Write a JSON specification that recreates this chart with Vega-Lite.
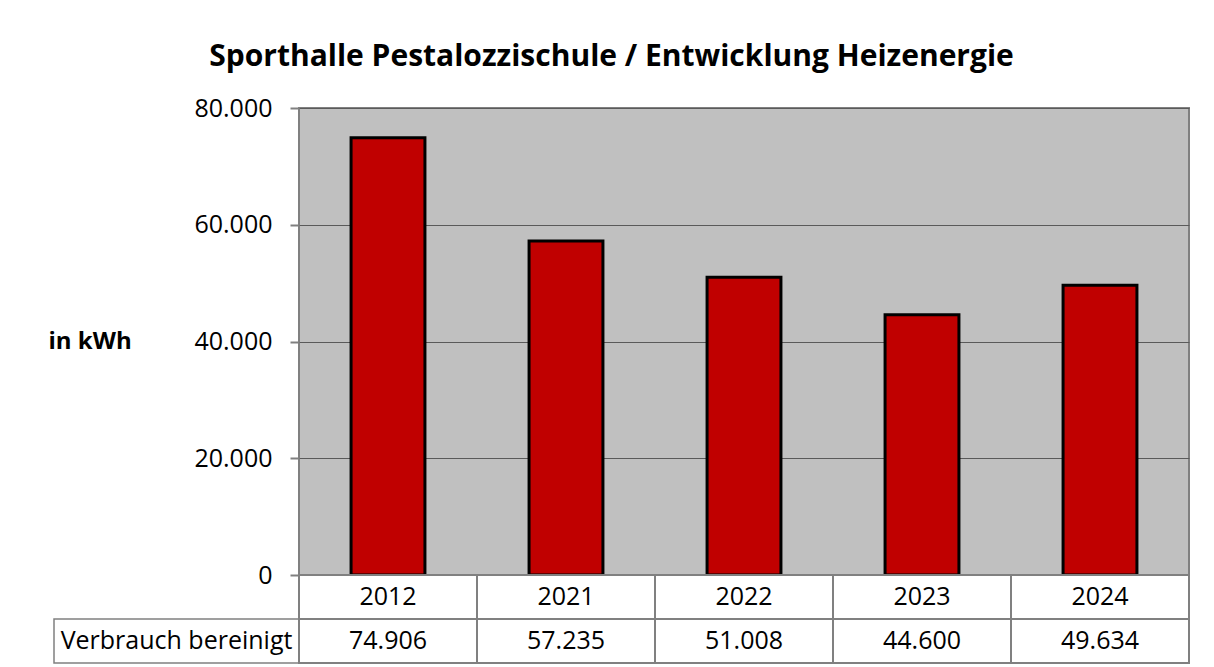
{
  "$schema": "https://vega.github.io/schema/vega-lite/v6.json",
  "padding": {"left": 47, "top": 42, "right": 5, "bottom": 5},
  "background": "white",
  "config": {
    "font": "Open Sans",
    "view": {"stroke": null},
    "locale": {"number": {"decimal": ",", "thousands": ".", "grouping": [3], "currency": ["", " €"]}}
  },
  "title": {
    "text": "Sporthalle Pestalozzischule / Entwicklung Heizenergie",
    "fontSize": 30,
    "fontWeight": "bold",
    "font": "Open Sans",
    "color": "black",
    "anchor": "middle",
    "dx": -7,
    "offset": 23
  },
  "data": {
    "values": [
      {"Jahr": "2012", "kWh": 74906},
      {"Jahr": "2021", "kWh": 57235},
      {"Jahr": "2022", "kWh": 51008},
      {"Jahr": "2023", "kWh": 44600},
      {"Jahr": "2024", "kWh": 49634}
    ]
  },
  "concat": [
    {
      "width": 245,
      "height": 467,
      "data": {"values": []},
      "mark": {"type": "rect"},
      "encoding": {}
    },
    {
      "width": 890,
      "height": 467,
      "view": {"fill": "#C0C0C0", "stroke": "#808080", "strokeWidth": 2},
      "mark": {"type": "bar", "color": "#C00000", "stroke": "black", "strokeWidth": 3},
      "encoding": {
        "x": {
          "field": "Jahr",
          "type": "nominal",
          "sort": null,
          "scale": {"paddingInner": 0.585, "paddingOuter": 0.2925},
          "axis": null
        },
        "y": {
          "field": "kWh",
          "type": "quantitative",
          "scale": {"domain": [0, 80000], "nice": false},
          "axis": {
            "values": [0, 20000, 40000, 60000, 80000],
            "format": ",d",
            "domain": false,
            "grid": true,
            "gridColor": "#5a5a5a",
            "gridWidth": 1.2,
            "tickColor": "#808080",
            "tickWidth": 2,
            "tickSize": 9,
            "labelFontSize": 25,
            "labelColor": "black",
            "labelPadding": 18,
            "labelFont": "Open Sans",
            "title": "in kWh",
            "titleFontSize": 24,
            "titleFontWeight": "bold",
            "titleColor": "black",
            "titleFont": "Open Sans",
            "titleAngle": 0,
            "titleAlign": "left",
            "titleBaseline": "middle",
            "titleX": -251,
            "titleY": 233
          }
        }
      }
    },
    {
      "width": 245,
      "height": 88,
      "layer": [
        {
          "mark": {"type": "rect", "fill": "white", "stroke": "#808080", "strokeWidth": 1.5},
          "encoding": {
            "y": {"datum": "Wert", "type": "nominal", "scale": {"domain": ["Jahr", "Wert"], "paddingInner": 0, "paddingOuter": 0}, "axis": null}
          }
        },
        {
          "mark": {"type": "text", "fontSize": 25, "font": "Open Sans", "color": "black"},
          "encoding": {
            "y": {"datum": "Wert", "type": "nominal", "scale": {"domain": ["Jahr", "Wert"], "paddingInner": 0, "paddingOuter": 0}, "axis": null},
            "text": {"datum": "Verbrauch bereinigt"}
          }
        }
      ],
      "data": {"values": [{"Zeile": "Verbrauch bereinigt"}]}
    },
    {
      "width": 890,
      "height": 88,
      "layer": [
        {
          "mark": {"type": "rect", "fill": "white", "stroke": "#808080", "strokeWidth": 2},
          "encoding": {
            "x": {"field": "Jahr", "type": "nominal", "sort": null, "scale": {"paddingInner": 0, "paddingOuter": 0}, "axis": null},
            "y": {"datum": "Jahr", "type": "nominal", "scale": {"domain": ["Jahr", "Wert"], "paddingInner": 0, "paddingOuter": 0}, "axis": null}
          }
        },
        {
          "mark": {"type": "rect", "fill": "white", "stroke": "#808080", "strokeWidth": 2},
          "encoding": {
            "x": {"field": "Jahr", "type": "nominal", "sort": null, "scale": {"paddingInner": 0, "paddingOuter": 0}, "axis": null},
            "y": {"datum": "Wert", "type": "nominal", "axis": null}
          }
        },
        {
          "mark": {"type": "text", "fontSize": 25, "font": "Open Sans", "color": "black"},
          "encoding": {
            "x": {"field": "Jahr", "type": "nominal", "sort": null, "axis": null},
            "y": {"datum": "Jahr", "type": "nominal", "axis": null},
            "text": {"field": "Jahr", "type": "nominal"}
          }
        },
        {
          "mark": {"type": "text", "fontSize": 25, "font": "Open Sans", "color": "black"},
          "encoding": {
            "x": {"field": "Jahr", "type": "nominal", "sort": null, "axis": null},
            "y": {"datum": "Wert", "type": "nominal", "axis": null},
            "text": {"field": "kWh", "type": "quantitative", "format": ",d"}
          }
        }
      ]
    }
  ],
  "columns": 2,
  "spacing": 0,
  "bounds": "flush",
  "align": "each"
}
